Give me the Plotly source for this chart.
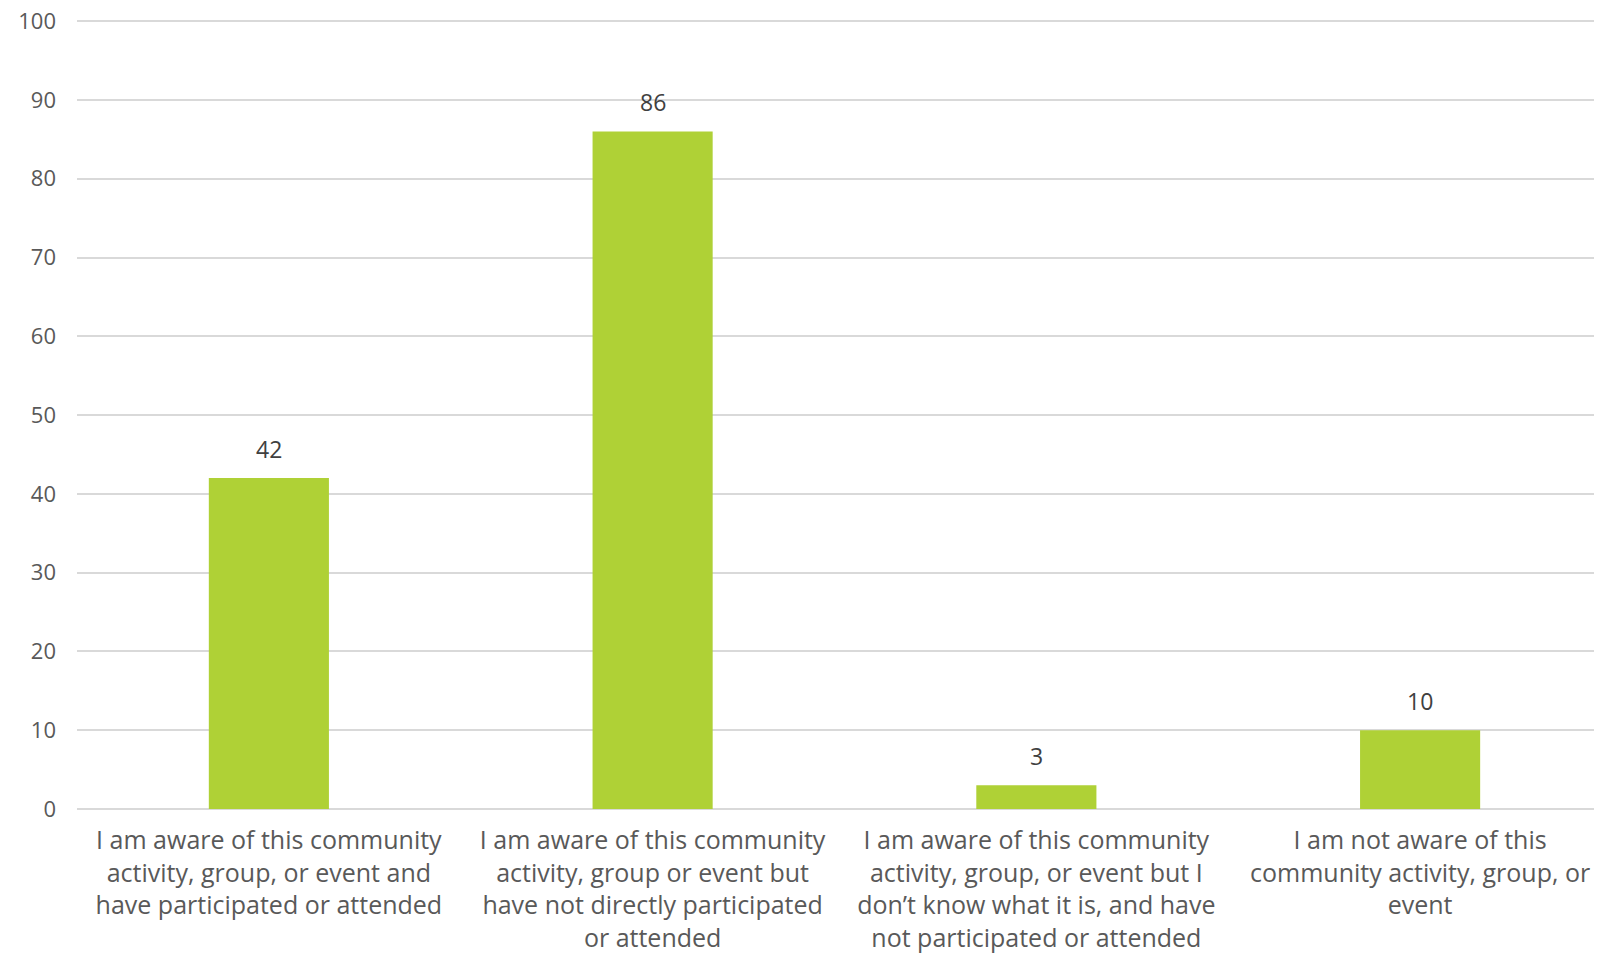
import plotly.graph_objects as go

categories = [
    "I am aware of this community<br>activity, group, or event and<br>have participated or attended",
    "I am aware of this community<br>activity, group or event but<br>have not directly participated<br>or attended",
    "I am aware of this community<br>activity, group, or event but I<br>don’t know what it is, and have<br>not participated or attended",
    "I am not aware of this<br>community activity, group, or<br>event",
]
values = [42, 86, 3, 10]
y_ticks = [0, 10, 20, 30, 40, 50, 60, 70, 80, 90, 100]

FONT = "'Open Sans', 'Noto Sans', sans-serif"
xs = list(range(len(categories)))

fig = go.Figure(
    go.Bar(
        x=xs,
        y=values,
        marker=dict(color="#AFD136", line=dict(width=0)),
        width=0.313,
        hoverinfo="x+y",
    )
)

for xi, v in zip(xs, values):
    fig.add_annotation(
        x=xi, y=v, text=str(v), showarrow=False,
        yanchor="bottom", yshift=11,
        font=dict(family=FONT, size=23, color="#404040"),
    )

fig.update_layout(
    width=1594,
    height=945,
    margin=dict(l=69, r=0, t=11.5, b=144.3),
    plot_bgcolor="white",
    paper_bgcolor="white",
    showlegend=False,
    font=dict(family=FONT, size=25, color="#595959"),
    xaxis=dict(
        tickmode="array",
        tickvals=xs,
        ticktext=categories,
        range=[-0.5, 3.474],
        showgrid=False,
        zeroline=False,
        showline=False,
        ticks="",
        tickangle=0,
        ticklabelstandoff=14,
        ticklabeloverflow="allow",
        automargin=False,
        tickfont=dict(family=FONT, size=25, color="#595959"),
    ),
    yaxis=dict(
        range=[0, 100.15],
        tickvals=y_ticks,
        showgrid=True,
        gridcolor="#D9D9D9",
        gridwidth=1.5,
        zeroline=True,
        zerolinecolor="#D9D9D9",
        zerolinewidth=1.5,
        showline=False,
        ticks="",
        ticklabelstandoff=20,
        ticklabeloverflow="allow",
        automargin=False,
        tickfont=dict(family=FONT, size=22, color="#595959"),
    ),
)

fig.write_html("out.html")
